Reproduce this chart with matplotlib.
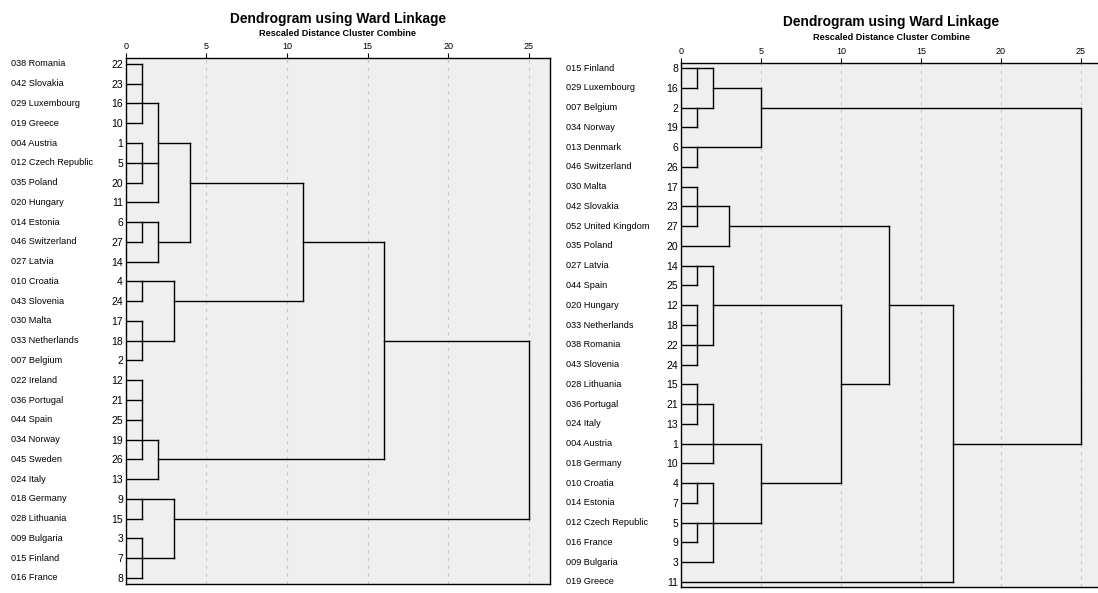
import matplotlib
matplotlib.use("Agg")
import matplotlib.pyplot as plt
from matplotlib.transforms import blended_transform_factory

plt.rcParams['font.family'] = ['Liberation Sans', 'DejaVu Sans']

# ---- first solution ----
left_names = ["038 Romania", "042 Slovakia", "029 Luxembourg", "019 Greece",
              "004 Austria", "012 Czech Republic", "035 Poland", "020 Hungary",
              "014 Estonia", "046 Switzerland", "027 Latvia", "010 Croatia",
              "043 Slovenia", "030 Malta", "033 Netherlands", "007 Belgium",
              "022 Ireland", "036 Portugal", "044 Spain", "034 Norway",
              "045 Sweden", "024 Italy", "018 Germany", "028 Lithuania",
              "009 Bulgaria", "015 Finland", "016 France"]
left_cases = [22, 23, 16, 10, 1, 5, 20, 11, 6, 27, 14, 4, 24, 17, 18, 2,
              12, 21, 25, 19, 26, 13, 9, 15, 3, 7, 8]
# (children, rescaled distance, row the joined branch leaves from)
# ids below the number of cases are cases, the rest are earlier merges
left_merges = [
    ([0, 1, 2, 3], 1, 2),
    ([4, 5, 6], 1, 5),
    ([27, 28, 7], 2, 4),
    ([8, 9], 1, 8),
    ([30, 10], 2, 9),
    ([29, 31], 4, 6),
    ([11, 12], 1, 11),
    ([13, 14, 15], 1, 14),
    ([33, 34], 3, 12),
    ([32, 35], 11, 9),
    ([16, 17, 18, 19, 20], 1, 19),
    ([37, 21], 2, 20),
    ([36, 38], 16, 14),
    ([22, 23], 1, 22),
    ([24, 25, 26], 1, 25),
    ([40, 41], 3, 23),
    ([39, 42], 25, 18),
]

# ---- second solution ----
right_names = ["015 Finland", "029 Luxembourg", "007 Belgium", "034 Norway",
               "013 Denmark", "046 Switzerland", "030 Malta", "042 Slovakia",
               "052 United Kingdom", "035 Poland", "027 Latvia", "044 Spain",
               "020 Hungary", "033 Netherlands", "038 Romania", "043 Slovenia",
               "028 Lithuania", "036 Portugal", "024 Italy", "004 Austria",
               "018 Germany", "010 Croatia", "014 Estonia", "012 Czech Republic",
               "016 France", "009 Bulgaria", "019 Greece"]
right_cases = [8, 16, 2, 19, 6, 26, 17, 23, 27, 20, 14, 25, 12, 18, 22, 24,
               15, 21, 13, 1, 10, 4, 7, 5, 9, 3, 11]
right_merges = [
    ([0, 1], 1, 0),
    ([2, 3], 1, 2),
    ([27, 28], 2, 1),
    ([4, 5], 1, 4),
    ([29, 30], 5, 2),
    ([6, 7, 8], 1, 7),
    ([32, 9], 3, 8),
    ([10, 11], 1, 10),
    ([12, 13, 14, 15], 1, 14),
    ([34, 35], 2, 12),
    ([16, 17, 18], 1, 17),
    ([37, 19, 20], 2, 19),
    ([21, 22], 1, 21),
    ([23, 24], 1, 23),
    ([39, 40, 25], 2, 23),
    ([38, 41], 5, 21),
    ([36, 42], 10, 16),
    ([33, 43], 13, 12),
    ([44, 26], 17, 19),
    ([31, 45], 25, 10),
]

distance_ticks = [0, 5, 10, 15, 20, 25]

W, H = 1098, 593
fig = plt.figure(figsize=(W / 100, H / 100), dpi=100)


def draw_tree(ax, names, cases, merges, xmax, ylim, name_x):
    n = len(names)
    level = {i: 0.0 for i in range(n)}
    row = {i: i for i in range(n)}
    style = dict(color='black', lw=1.0, solid_capstyle='projecting', zorder=3)
    for k, (kids, dist, out) in enumerate(merges):
        rows = [row[c] for c in kids]
        for c in kids:
            ax.plot([level[c], dist], [row[c], row[c]], **style)
        ax.plot([dist, dist], [min(rows), max(rows)], **style)
        level[n + k] = dist
        row[n + k] = out

    ax.set_facecolor('#efefef')
    ax.set_xlim(0, xmax)
    ax.set_ylim(*ylim)
    ax.xaxis.tick_top()
    ax.set_xticks(distance_ticks)
    ax.tick_params(axis='x', length=3.5, width=0.8, pad=1.2, labelsize=6.5)
    ax.set_yticks(range(n))
    ax.set_yticklabels([str(c) for c in cases])
    ax.tick_params(axis='y', length=0, pad=2, labelsize=7.5)
    for x in distance_ticks[1:]:
        ax.axvline(x, color='#c8c8c8', lw=0.8, dashes=(3, 4), zorder=1)
    for s in ax.spines.values():
        s.set_linewidth(1.0)
        s.set_color('black')

    tr = blended_transform_factory(fig.transFigure, ax.transData)
    for r, name in enumerate(names):
        ax.text(name_x / W, r, name, transform=tr, ha='left', va='center',
                fontsize=6.6)


def add_titles(cx, y_title, y_sub):
    fig.text(cx / W, 1 - y_title / H, "Dendrogram using Ward Linkage",
             ha='center', va='center', fontsize=9.9, fontweight='bold')
    fig.text(cx / W, 1 - y_sub / H, "Rescaled Distance Cluster Combine",
             ha='center', va='center', fontsize=6.6, fontweight='bold')


# left panel
l0, l1, t0, b0 = 125.7, 550.0, 58.0, 583.5
ax1 = fig.add_axes([l0 / W, 1 - b0 / H, (l1 - l0) / W, (b0 - t0) / H])
draw_tree(ax1, left_names, left_cases, left_merges, 26.3, (26.28, -0.30), 10.7)
add_titles((l0 + l1) / 2, 18.5, 33.5)

# right panel (runs off the right edge)
r0, r1, t1, b1 = 680.8, 1101.5, 62.7, 587.3
ax2 = fig.add_axes([r0 / W, 1 - b1 / H, (r1 - r0) / W, (b1 - t1) / H])
draw_tree(ax2, right_names, right_cases, right_merges, 26.28, (26.27, -0.27), 565.8)
add_titles((r0 + r1) / 2, 22.0, 37.0)

fig.savefig("out.png", dpi=100)
